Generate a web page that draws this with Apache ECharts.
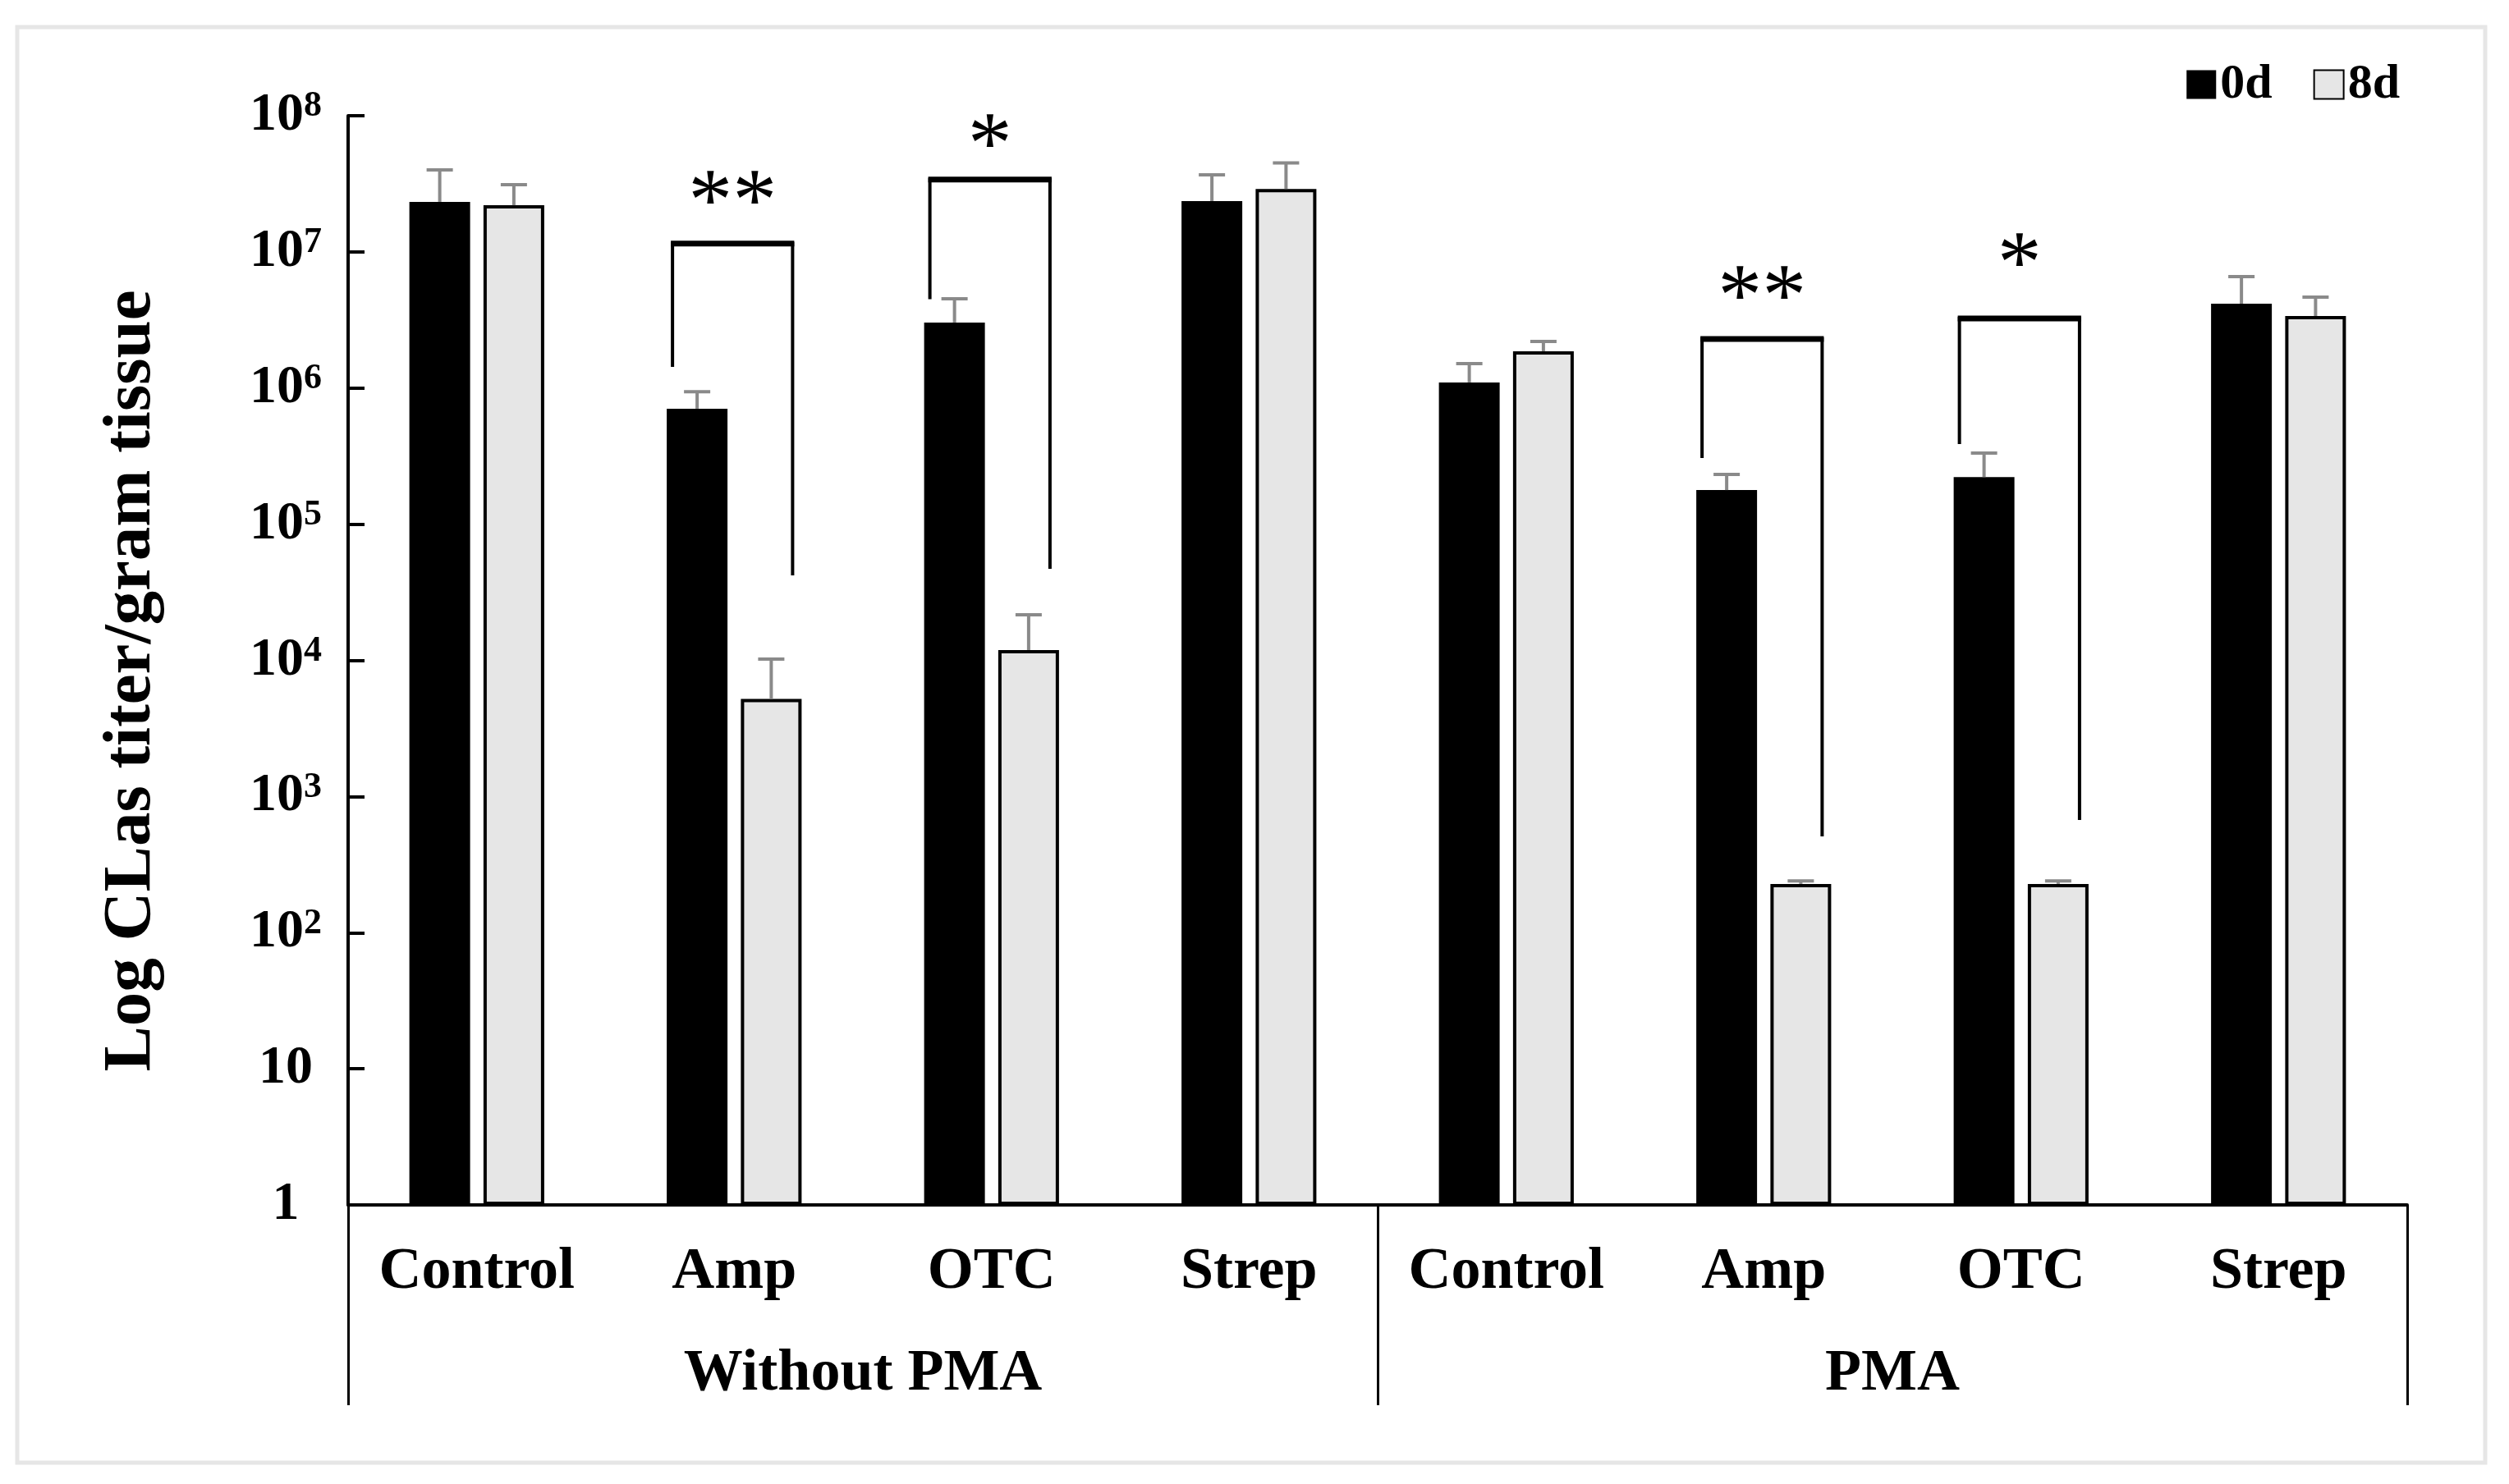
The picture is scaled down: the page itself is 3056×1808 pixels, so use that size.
<!DOCTYPE html>
<html>
<head>
<meta charset="utf-8">
<script src="https://cdn.jsdelivr.net/npm/echarts@6/dist/echarts.min.js"></script>
<style>
html,body{margin:0;padding:0;background:#fff;}
#chart{width:3056px;height:1808px;}
</style>
</head>
<body>
<div id="chart"></div>
<script>
// ---- data ----
const categories = ['Control', 'Amp', 'OTC', 'Strep', 'Control', 'Amp', 'OTC', 'Strep'];
const groups = ['Without PMA', 'PMA'];
const seriesNames = ['0d', '8d'];
// mean CLas titer / gram tissue
const day0 = [2.33e7, 7.05e5, 3.03e6, 2.36e7, 1.10e6, 1.78e5, 2.22e5, 4.16e6];
const day8 = [2.20e7, 5.2e3, 1.19e4, 2.90e7, 1.86e6, 228, 228, 3.38e6];
// mean + error (top of the error bar)
const day0Upper = [4.0e7, 9.4e5, 4.53e6, 3.68e7, 1.51e6, 2.32e5, 3.33e5, 6.58e6];
const day8Upper = [3.12e7, 1.02e4, 2.16e4, 4.5e7, 2.2e6, 240, 240, 4.65e6];
// significance brackets: [category index, left leg end, bracket top, right leg end, star level]
const brackets = [
  [1, 1.43e6, 1.15e7, 4.2e4, 2.95e7],
  [2, 4.5e6, 3.4e7, 4.7e4, 7.7e7],
  [5, 3.06e5, 2.29e6, 509, 5.9e6],
  [6, 3.88e5, 3.24e6, 672, 1.03e7]
];
const stars = ['**', '*', '**', '*'];
const yTickExponents = [0, 1, 2, 3, 4, 5, 6, 7, 8];

// ---- styles ----
const FONT = "'Times New Roman', 'Liberation Serif', serif";
const BAR_W = 74;
const BAR_GAP = 0.22;
const OFFSET = (BAR_W * (1 + BAR_GAP)) / 2;
const STAR_SIZE = 108;

const chart = echarts.init(document.getElementById('chart'), null, {renderer: 'canvas'});

function errorSeries(means, uppers, sign, name) {
  return {
    type: 'custom',
    name: name + ' error',
    z: 5,
    silent: true,
    data: means.map((m, i) => [i, m, uppers[i]]),
    renderItem: function (params, api) {
      const base = api.coord([api.value(0), api.value(1)]);
      const top = api.coord([api.value(0), api.value(2)]);
      const x = base[0] + sign * OFFSET;
      const st = {stroke: '#8a8a8a', lineWidth: 4};
      return {
        type: 'group',
        children: [
          {type: 'line', shape: {x1: x, y1: base[1], x2: x, y2: top[1]}, style: st},
          {type: 'line', shape: {x1: x - 16, y1: top[1], x2: x + 16, y2: top[1]}, style: st}
        ]
      };
    }
  };
}

const option = {
  animation: false,
  backgroundColor: '#fff',
  graphic: [{
    type: 'rect',
    shape: {x: 21, y: 33, width: 3006, height: 1749},
    style: {fill: 'none', stroke: '#e6e6e6', lineWidth: 5},
    silent: true
  }],
  legend: {
    data: seriesNames,
    right: 128,
    top: 68,
    icon: 'rect',
    itemWidth: 36,
    itemHeight: 35,
    itemGap: 50,
    textStyle: {fontFamily: FONT, fontWeight: 'bold', fontSize: 60, color: '#000'}
  },
  grid: {left: 424, right: 124, top: 141, bottom: 340, containLabel: false},
  xAxis: [{
    type: 'category',
    data: categories,
    position: 'bottom',
    axisLine: {show: true, lineStyle: {color: '#000', width: 4}},
    axisTick: {show: false},
    axisLabel: {
      interval: 0, margin: 46, color: '#000',
      fontFamily: FONT, fontWeight: 'bold', fontSize: 72
    },
    splitLine: {show: false}
  }, {
    type: 'category',
    data: groups,
    position: 'bottom',
    offset: 0,
    axisLine: {show: false},
    axisTick: {show: true, length: 244, lineStyle: {color: '#000', width: 3}},
    axisLabel: {
      interval: 0, margin: 170, color: '#000',
      fontFamily: FONT, fontWeight: 'bold', fontSize: 72
    },
    splitLine: {show: false}
  }],
  yAxis: {
    type: 'log',
    logBase: 10,
    min: 1,
    max: 1e8,
    interval: 1,
    name: 'Log CLas titer/gram tissue',
    nameLocation: 'middle',
    nameRotate: 90,
    nameGap: 222,
    nameTextStyle: {fontFamily: FONT, fontWeight: 'bold', fontSize: 83, color: '#000', padding: [0, 50, 0, 0]},
    axisLine: {show: true, lineStyle: {color: '#000', width: 4}},
    axisTick: {show: true, inside: true, length: 20, lineStyle: {color: '#000', width: 4}},
    splitLine: {show: false},
    minorTick: {show: false},
    axisLabel: {
      margin: 76,
      align: 'center',
      color: '#000',
      formatter: function (v) {
        const n = Math.round(Math.log10(v));
        if (yTickExponents.indexOf(n) < 0) return '';
        if (n === 0) return '{b|1}';
        if (n === 1) return '{b|10}';
        return '{b|10}{s|' + n + '}';
      },
      rich: {
        b: {fontFamily: FONT, fontWeight: 'bold', fontSize: 66, color: '#000', verticalAlign: 'bottom', lineHeight: 66},
        s: {fontFamily: FONT, fontWeight: 'bold', fontSize: 44, color: '#000', verticalAlign: 'top', lineHeight: 44}
      }
    }
  },
  series: [{
    name: seriesNames[0],
    type: 'bar',
    data: day0,
    barWidth: BAR_W,
    barGap: (BAR_GAP * 100) + '%',
    itemStyle: {color: '#000', borderColor: '#000', borderWidth: 0},
    z: 2
  }, {
    name: seriesNames[1],
    type: 'bar',
    data: day8,
    barWidth: BAR_W,
    barGap: (BAR_GAP * 100) + '%',
    itemStyle: {color: '#e6e6e6', borderColor: '#000', borderWidth: 4},
    z: 2
  },
  errorSeries(day0, day0Upper, -1, seriesNames[0]),
  errorSeries(day8, day8Upper, 1, seriesNames[1]),
  {
    type: 'custom',
    name: 'significance',
    z: 6,
    silent: true,
    data: brackets,
    renderItem: function (params, api) {
      const c = api.value(0);
      const pl = api.coord([c, api.value(1)]);
      const pt = api.coord([c, api.value(2)]);
      const pr = api.coord([c, api.value(3)]);
      const ps = api.coord([c, api.value(4)]);
      const xl = pl[0] - OFFSET - BAR_W / 2 + 7;
      const xr = pl[0] + OFFSET + BAR_W / 2 - 11;
      return {
        type: 'group',
        children: [
          {type: 'polyline', shape: {points: [[xl, pl[1]], [xl, pt[1]], [xr, pt[1]], [xr, pr[1]]]},
           style: {stroke: '#000', lineWidth: 4, fill: 'none'}},
          {type: 'line', shape: {x1: xl - 2, y1: pt[1], x2: xr + 2, y2: pt[1]},
           style: {stroke: '#000', lineWidth: 7}},
          {type: 'text', style: {
            text: stars[params.dataIndex], x: (xl + xr) / 2, y: ps[1] + STAR_SIZE * 0.2,
            align: 'center', verticalAlign: 'middle',
            fontFamily: FONT, fontWeight: 'normal', fontSize: STAR_SIZE, fill: '#000'
          }}
        ]
      };
    }
  }]
};
chart.setOption(option);
</script>
</body>
</html>
